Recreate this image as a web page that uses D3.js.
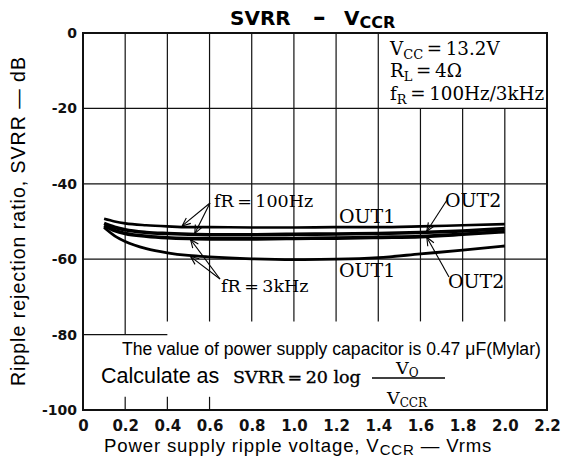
<!DOCTYPE html>
<html>
<head>
<meta charset="utf-8">
<script src="https://cdn.jsdelivr.net/npm/d3@7"></script>
<style>
  body { margin: 0; background: #fff; }
  .sans { font-family: "Liberation Sans", Arial, sans-serif; }
  .serif { font-family: "DejaVu Serif", serif; }
  .tick text { font-family: "DejaVu Sans", sans-serif; font-weight: bold; fill: #111; }
</style>
</head>
<body>
<svg id="chart" width="569" height="459"></svg>
<script>
var vccr = [0.1, 0.15, 0.2, 0.3, 0.4, 0.5, 0.6, 0.8, 1.0, 1.2, 1.4, 1.6, 1.8, 2.0];

// SVRR in dB
var out1_100Hz = [-49.3, -50.0, -50.5, -51.0, -51.3, -51.5, -51.5, -51.6, -51.6, -51.5, -51.5, -51.3, -51.0, -50.7];
var out2_100Hz = [-50.5, -51.5, -52.2, -52.9, -53.2, -53.4, -53.5, -53.5, -53.4, -53.3, -53.2, -52.9, -52.5, -51.9];
var out2_3kHz  = [-51.1, -52.4, -53.2, -53.9, -54.3, -54.5, -54.6, -54.6, -54.5, -54.4, -54.2, -54.0, -53.4, -52.7];
var out1_3kHz  = [-51.6, -53.8, -55.3, -57.2, -58.3, -59.0, -59.4, -59.9, -60.1, -60.0, -59.6, -58.6, -57.6, -56.5];

var xTicks = [0, 0.2, 0.4, 0.6, 0.8, 1.0, 1.2, 1.4, 1.6, 1.8, 2.0, 2.2];
var xTickLabels = ["0", "0.2", "0.4", "0.6", "0.8", "1.0", "1.2", "1.4", "1.6", "1.8", "2.0", "2.2"];
var yTicks = [0, -20, -40, -60, -80, -100];
var yTickLabels = ["0", "-20", "-40", "-60", "-80", "-100"];

var svg = d3.select("#chart");

var x = d3.scaleLinear().domain([0, 2.2]).range([83, 547]);
var y = d3.scaleLinear().domain([0, -100]).range([33, 410]);

var grid = svg.append("g").attr("stroke", "#111").attr("stroke-width", 1.2);

// vertical grid, the ones under the condition box start at -20
xTicks.slice(1, -1).forEach(function(v) {
  grid.append("line")
    .attr("x1", x(v)).attr("x2", x(v))
    .attr("y1", y(v > 1.5 ? -20 : 0))
    .attr("y2", y(v < 0.3 ? -80 : -76.5));
});
[-20, -40, -60].forEach(function(v) {
  grid.append("line")
    .attr("x1", x(0)).attr("x2", x(2.2))
    .attr("y1", y(v)).attr("y2", y(v));
});
// -80 only drawn part way
grid.append("line")
  .attr("x1", x(0)).attr("x2", x(0.4))
  .attr("y1", y(-80)).attr("y2", y(-80));
// short ticks on the bottom edge
[0.2, 0.4, 0.6].forEach(function(v) {
  grid.append("line")
    .attr("x1", x(v)).attr("x2", x(v))
    .attr("y1", y(-96.5)).attr("y2", y(-100));
});

svg.append("rect")
  .attr("x", x(0)).attr("y", y(0))
  .attr("width", x(2.2) - x(0)).attr("height", y(-100) - y(0))
  .attr("fill", "none").attr("stroke", "#111").attr("stroke-width", 2);

// axes
var xAxis = svg.append("g")
  .attr("transform", "translate(0," + y(-100) + ")")
  .call(d3.axisBottom(x).tickValues(xTicks).tickSize(0).tickPadding(10)
    .tickFormat(function(d, i) { return xTickLabels[i]; }));
xAxis.select(".domain").remove();
xAxis.selectAll("text").attr("font-size", 15);

var yAxis = svg.append("g")
  .attr("transform", "translate(" + x(0) + ",0)")
  .call(d3.axisLeft(y).tickValues(yTicks).tickSize(0).tickPadding(6)
    .tickFormat(function(d, i) { return yTickLabels[i]; }));
yAxis.select(".domain").remove();
yAxis.selectAll("text").attr("font-size", 14);

// curves
var line = d3.line()
  .x(function(d) { return x(d[0]); })
  .y(function(d) { return y(d[1]); })
  .curve(d3.curveMonotoneX);

var series = [
  {vals: out1_100Hz, w: 2.6},
  {vals: out2_100Hz, w: 3.6},
  {vals: out2_3kHz, w: 3.6},
  {vals: out1_3kHz, w: 2.8}
];
series.forEach(function(s) {
  svg.append("path")
    .datum(d3.zip(vccr, s.vals))
    .attr("d", line)
    .attr("fill", "none")
    .attr("stroke", "#000")
    .attr("stroke-width", s.w);
});

// value on a curve, for pointing the arrows
function at(vals, v) {
  return d3.scaleLinear().domain(vccr).range(vals)(v);
}

var ann = svg.append("g").attr("stroke", "#000").attr("stroke-width", 1.1).attr("fill", "none");
function arrow(x1, y1, x2, y2) {
  ann.append("line").attr("x1", x1).attr("y1", y1).attr("x2", x2).attr("y2", y2);
  var a = Math.atan2(y1 - y2, x1 - x2);
  [-0.4, 0.4].forEach(function(d) {
    ann.append("line")
      .attr("x1", x2).attr("y1", y2)
      .attr("x2", x2 + 9 * Math.cos(a + d))
      .attr("y2", y2 + 9 * Math.sin(a + d));
  });
}

arrow(210, 203, x(0.47), y(at(out1_100Hz, 0.47)) - 1);
arrow(210, 203, x(0.53), y(at(out2_100Hz, 0.53)) - 1);
arrow(220, 279, x(0.51), y(at(out2_3kHz, 0.51)) + 1);
arrow(220, 279, x(0.51), y(at(out1_3kHz, 0.51)) + 1);
arrow(447, 200, x(1.63), y(at(out2_100Hz, 1.63)) - 1);
arrow(449, 277, x(1.63), y(at(out2_3kHz, 1.63)) + 1);

function serifText(px, py, size) {
  return svg.append("text").attr("class", "serif")
    .attr("x", px).attr("y", py).attr("font-size", size).attr("fill", "#000");
}
serifText(214, 207, 17.5).text("fR\u2009=\u2009100Hz");
serifText(221, 292, 17.5).text("fR\u2009=\u20093kHz");
serifText(339, 223, 19).text("OUT1");
serifText(445, 207, 19).text("OUT2");
serifText(339, 277, 19).text("OUT1");
serifText(448, 288, 19).text("OUT2");

// condition box
var c1 = serifText(390, 55, 18.3);
c1.append("tspan").text("V");
c1.append("tspan").attr("font-size", 13).attr("dy", 4).text("CC");
c1.append("tspan").attr("dy", -4).text("\u2009=\u200913.2V");
var c2 = serifText(390, 77, 18.3);
c2.append("tspan").text("R");
c2.append("tspan").attr("font-size", 13).attr("dy", 4).text("L");
c2.append("tspan").attr("dy", -4).text("\u2009=\u20094\u03a9");
var c3 = serifText(390, 100, 18.3);
c3.append("tspan").text("f");
c3.append("tspan").attr("font-size", 13).attr("dy", 4).text("R");
c3.append("tspan").attr("dy", -4).text("\u2009=\u2009100Hz/3kHz");

// notes at the bottom
svg.append("text").attr("class", "sans")
  .attr("x", 122).attr("y", 355).attr("font-size", 17.6)
  .text("The value of power supply capacitor is 0.47 \u03bcF(Mylar)");
svg.append("text").attr("class", "sans")
  .attr("x", 101).attr("y", 383).attr("font-size", 21.5)
  .text("Calculate as");
serifText(233, 383, 17.5).attr("stroke", "#000").attr("stroke-width", 0.35)
  .text("SVRR\u2009=\u200920 log");
svg.append("line")
  .attr("x1", 372).attr("x2", 445).attr("y1", 378).attr("y2", 378)
  .attr("stroke", "#000").attr("stroke-width", 1.4);
var num = serifText(396, 374, 17.5);
num.append("tspan").text("V");
num.append("tspan").attr("font-size", 12).attr("dy", 3).text("O");
var den = serifText(387, 404, 17.5);
den.append("tspan").text("V");
den.append("tspan").attr("font-size", 12).attr("dy", 3).text("CCR");

// title, pieces spread out like the original
var title = svg.append("text")
  .attr("y", 25).attr("font-size", 20).attr("font-weight", "bold")
  .attr("font-family", "DejaVu Sans");
title.append("tspan").attr("x", 230).text("SVRR");
title.append("tspan").attr("x", 313).attr("font-size", 25).text("\u2013");
title.append("tspan").attr("x", 344).text("V");
title.append("tspan").attr("font-size", 16).attr("dy", 3).text("CCR");

// axis titles
var xt = svg.append("text").attr("class", "sans")
  .attr("x", 104).attr("y", 452).attr("font-size", 18.6).attr("letter-spacing", 0.85);
xt.append("tspan").text("Power supply ripple voltage, V");
xt.append("tspan").attr("font-size", 15).attr("dy", 3).text("CCR");
xt.append("tspan").attr("dy", -3).text(" \u2014 Vrms");

svg.append("text").attr("class", "sans")
  .attr("transform", "translate(25,221) rotate(-90)")
  .attr("text-anchor", "middle").attr("font-size", 19.5).attr("letter-spacing", 1)
  .text("Ripple rejection ratio, SVRR \u2014 dB");
</script>
</body>
</html>
